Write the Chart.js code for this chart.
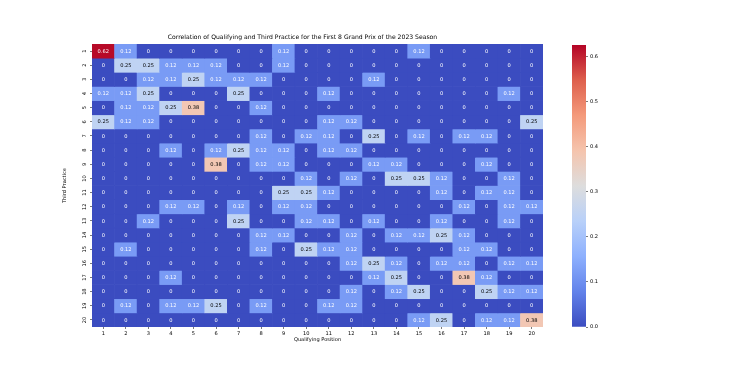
<!DOCTYPE html>
<html>
<head>
<meta charset="utf-8">
<script src="https://cdn.jsdelivr.net/npm/chart.js@4.4.1/dist/chart.umd.min.js"></script>
<style>
  body { margin: 0; background: #fff; }
  #wrap { position: relative; width: 730px; height: 368px; }
  #heat { position: absolute; left: 0; top: 0; }
  #bar { position: absolute; left: 572px; top: 40px; }
</style>
</head>
<body>
<div id="wrap">
  <canvas id="heat" width="730" height="368"></canvas>
  <canvas id="bar" width="60" height="295"></canvas>
</div>
<script>
const qualifying = ['1','2','3','4','5','6','7','8','9','10','11','12','13','14','15','16','17','18','19','20'];
const practice = ['1','2','3','4','5','6','7','8','9','10','11','12','13','14','15','16','17','18','19','20'];

// one array per third practice position, values by qualifying position
const row1  = [0.62,0.12,0,0,0,0,0,0,0.12,0,0,0,0,0,0.12,0,0,0,0,0];
const row2  = [0,0.25,0.25,0.12,0.12,0.12,0,0,0.12,0,0,0,0,0,0,0,0,0,0,0];
const row3  = [0,0,0.12,0.12,0.25,0.12,0.12,0.12,0,0,0,0,0.12,0,0,0,0,0,0,0];
const row4  = [0.12,0.12,0.25,0,0,0,0.25,0,0,0,0.12,0,0,0,0,0,0,0,0.12,0];
const row5  = [0,0.12,0.12,0.25,0.38,0,0,0.12,0,0,0,0,0,0,0,0,0,0,0,0];
const row6  = [0.25,0.12,0.12,0,0,0,0,0,0,0,0.12,0.12,0,0,0,0,0,0,0,0.25];
const row7  = [0,0,0,0,0,0,0,0.12,0,0.12,0.12,0,0.25,0,0.12,0,0.12,0.12,0,0];
const row8  = [0,0,0,0.12,0,0.12,0.25,0.12,0.12,0,0.12,0.12,0,0,0,0,0,0,0,0];
const row9  = [0,0,0,0,0,0.38,0,0.12,0.12,0,0,0,0.12,0.12,0,0,0,0.12,0,0];
const row10 = [0,0,0,0,0,0,0,0,0,0.12,0,0.12,0,0.25,0.25,0.12,0,0,0.12,0];
const row11 = [0,0,0,0,0,0,0,0,0.25,0.25,0.12,0,0,0,0,0.12,0,0.12,0.12,0];
const row12 = [0,0,0,0.12,0.12,0,0.12,0,0.12,0.12,0,0,0,0,0,0,0.12,0,0.12,0.12];
const row13 = [0,0,0.12,0,0,0,0.25,0,0,0.12,0.12,0,0.12,0,0,0.12,0,0,0.12,0];
const row14 = [0,0,0,0,0,0,0,0.12,0.12,0,0,0.12,0,0.12,0.12,0.25,0.12,0,0,0];
const row15 = [0,0.12,0,0,0,0,0,0.12,0,0.25,0.12,0.12,0,0,0,0,0.12,0.12,0,0];
const row16 = [0,0,0,0,0,0,0,0,0,0,0,0.12,0.25,0.12,0,0.12,0.12,0,0.12,0.12];
const row17 = [0,0,0,0.12,0,0,0,0,0,0,0,0,0.12,0.25,0,0,0.38,0.12,0,0];
const row18 = [0,0,0,0,0,0,0,0,0,0,0,0.12,0,0.12,0.25,0,0,0.25,0.12,0.12];
const row19 = [0,0.12,0,0.12,0.12,0.25,0,0.12,0,0,0.12,0.12,0,0,0,0,0,0,0,0];
const row20 = [0,0,0,0,0,0,0,0,0,0,0,0,0,0,0.12,0.25,0,0.12,0.12,0.38];
const rows = [row1,row2,row3,row4,row5,row6,row7,row8,row9,row10,row11,row12,row13,row14,row15,row16,row17,row18,row19,row20];

const cbTicks = [0, 0.1, 0.2, 0.3, 0.4, 0.5, 0.6];
const vmax = 0.625;

// matplotlib coolwarm, sampled at 9 points
const cool = [[59,76,192],[98,130,234],[141,176,254],[184,208,249],[221,221,221],[245,196,173],[244,154,123],[222,96,77],[180,4,38]];
function coolwarm(t) {
  t = Math.min(1, Math.max(0, t));
  const p = t * 8, i = Math.min(7, Math.floor(p)), f = p - i;
  return cool[i].map((v, k) => Math.round(v + (cool[i + 1][k] - v) * f));
}
const rgb = c => `rgb(${c[0]},${c[1]},${c[2]})`;
function lum(c) {
  const l = c.map(v => { v /= 255; return v <= 0.03928 ? v / 12.92 : Math.pow((v + 0.055) / 1.055, 2.4); });
  return 0.2126 * l[0] + 0.7152 * l[1] + 0.0722 * l[2];
}

const FONT = '"DejaVu Sans", sans-serif';

const annot = {
  id: 'annot',
  afterDatasetsDraw(chart) {
    const ctx = chart.ctx;
    ctx.save();
    ctx.font = `5.1px ${FONT}`;
    ctx.textAlign = 'center';
    ctx.textBaseline = 'middle';
    rows.forEach((vals, r) => {
      const meta = chart.getDatasetMeta(r);
      vals.forEach((v, c) => {
        const pt = meta.data[c].getCenterPoint();
        ctx.fillStyle = lum(coolwarm(v / vmax)) > 0.408 ? '#000' : '#fff';
        ctx.fillText(String(v), pt.x, pt.y + 0.3);
      });
    });
    ctx.restore();
  }
};

const tickGrid = { drawOnChartArea: false, drawTicks: true, tickLength: 2, tickWidth: 0.6, color: '#222', offset: false };

new Chart(document.getElementById('heat'), {
  type: 'bar',
  data: {
    labels: qualifying,
    datasets: rows.map((vals, r) => ({
      data: vals.map(() => [r, r + 1]),
      backgroundColor: vals.map(v => rgb(coolwarm(v / vmax))),
      grouped: false,
      barPercentage: 1,
      categoryPercentage: 1,
      borderWidth: 0
    }))
  },
  options: {
    responsive: false,
    animation: false,
    layout: { padding: { left: 62, right: 187, top: 33.5, bottom: 25 } },
    plugins: {
      legend: { display: false },
      tooltip: { enabled: false },
      title: {
        display: true,
        text: 'Correlation of Qualifying and Third Practice for the First 8 Grand Prix of the 2023 Season',
        color: '#000',
        font: { family: FONT, size: 6.1, weight: 'normal' },
        padding: { top: 0, bottom: 3.2 }
      }
    },
    scales: {
      x: {
        grid: tickGrid,
        border: { display: false },
        ticks: { color: '#000', font: { family: FONT, size: 5.1 }, padding: 1.5, maxRotation: 0, autoSkip: false },
        title: { display: true, text: 'Qualifying Position', color: '#000', font: { family: FONT, size: 5.1 }, padding: 0 },
        afterFit(scale) { scale.height = 16; }
      },
      y: {
        type: 'linear',
        min: 0,
        max: 20,
        reverse: true,
        grid: tickGrid,
        border: { display: false },
        afterBuildTicks(scale) { scale.ticks = practice.map((_, i) => ({ value: i + 0.5 })); },
        ticks: {
          color: '#000', font: { family: FONT, size: 5.1 }, padding: 2,
          minRotation: 90, maxRotation: 90, crossAlign: 'center',
          callback: (v, i) => practice[i]
        },
        title: { display: true, text: 'Third Practice', color: '#000', font: { family: FONT, size: 5.1 }, padding: 0 },
        afterFit(scale) { scale.width = 30; }
      }
    }
  },
  plugins: [annot]
});

// colour bar
new Chart(document.getElementById('bar'), {
  type: 'bar',
  data: {
    labels: [''],
    datasets: [{
      data: [[0, vmax]],
      barPercentage: 1,
      categoryPercentage: 1,
      borderWidth: 0,
      backgroundColor(ctx) {
        const area = ctx.chart.chartArea;
        if (!area) return rgb(cool[0]);
        const g = ctx.chart.ctx.createLinearGradient(0, area.bottom, 0, area.top);
        cool.forEach((c, i) => g.addColorStop(i / 8, rgb(c)));
        return g;
      }
    }]
  },
  options: {
    responsive: false,
    animation: false,
    layout: { padding: { left: 0, right: 0, top: 4, bottom: 8 } },
    plugins: { legend: { display: false }, tooltip: { enabled: false } },
    scales: {
      x: { display: false },
      y: {
        position: 'right',
        min: 0,
        max: vmax,
        grid: { drawOnChartArea: false, drawTicks: true, tickLength: 2, tickWidth: 0.6, color: '#222' },
        border: { display: false },
        afterBuildTicks(scale) { scale.ticks = cbTicks.map(v => ({ value: v })); },
        ticks: { color: '#000', font: { family: FONT, size: 5.1 }, padding: 2, callback: v => v.toFixed(1) },
        afterFit(scale) { scale.width = 46; }
      }
    }
  }
});
</script>
</body>
</html>
